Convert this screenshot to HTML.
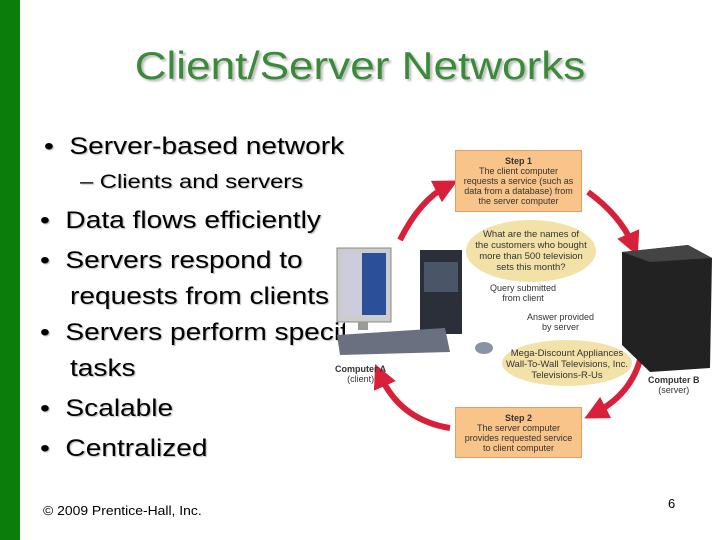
<html><head><style>
body{margin:0;width:720px;height:540px;background:#fff;position:relative;overflow:hidden;font-family:"Liberation Sans",sans-serif}
.a{position:absolute;white-space:nowrap}
.t{font-size:24px;color:#000;text-shadow:1px 1px 1px #bbb;transform:scaleX(1.17);transform-origin:0 0}
.box{position:absolute;background:#f9c48a;border:1px solid #e0a060;font-size:9px;text-align:center;color:#333;line-height:10px;padding-top:5px;box-sizing:border-box}
.ell{position:absolute;background:#f3e2a8;border-radius:50%;font-size:9.5px;text-align:center;color:#333;line-height:11px}
</style></head><body>
<div class="a" style="left:0;top:0;width:20px;height:540px;background:#0a7d0a"></div>
<div class="a" style="left:0;width:720px;top:45px;text-align:center;font-size:39px;color:#3a8a3a;text-shadow:2px 2px 2px #bbb;transform:scaleX(1.13);transform-origin:360px 0">Client/Server Networks</div>
<div class="a t" style="left:44px;top:133px">•&nbsp;&nbsp;Server-based network</div>
<div class="a" style="left:80px;top:172px;font-size:19px;text-shadow:1px 1px 1px #bbb;transform:scaleX(1.25);transform-origin:0 0">– Clients and servers</div>
<div class="a t" style="left:40px;top:207px">•&nbsp;&nbsp;Data flows efficiently</div>
<div class="a t" style="left:40px;top:247px">•&nbsp;&nbsp;Servers respond to</div>
<div class="a t" style="left:70px;top:283px">requests from clients</div>
<div class="a t" style="left:40px;top:319px">•&nbsp;&nbsp;Servers perform specific</div>
<div class="a t" style="left:70px;top:355px">tasks</div>
<div class="a t" style="left:40px;top:395px">•&nbsp;&nbsp;Scalable</div>
<div class="a t" style="left:40px;top:435px">•&nbsp;&nbsp;Centralized</div>
<div class="a" style="left:43px;top:503px;font-size:13px;transform:scaleX(1.07);transform-origin:0 0">© 2009 Prentice-Hall, Inc.</div>
<div class="a" style="left:668px;top:496px;font-size:13px">6</div>
<div class="a" style="left:345px;top:140px;width:375px;height:325px;background:#fff"></div>
<svg class="a" style="left:0;top:0" width="720" height="540">
<defs><marker id="m" markerWidth="4" markerHeight="4" refX="2" refY="2" orient="auto"><path d="M0,0L4,2L0,4z" fill="#d8203a"/></marker></defs>
<g stroke="#d8203a" stroke-width="6" fill="none" marker-end="url(#m)">
<path d="M400,240 Q420,200 447,186"/>
<path d="M588,192 Q620,215 633,245"/>
<path d="M640,360 Q630,395 595,413"/>
<path d="M450,428 Q400,420 380,375"/>
</g>
<rect x="337" y="248" width="54" height="74" fill="#ccc" stroke="#888"/>
<rect x="342" y="253" width="44" height="62" fill="#2c4f9a"/>
<rect x="342" y="253" width="20" height="62" fill="#ccd"/>
<rect x="358" y="322" width="10" height="8" fill="#999"/>
<rect x="420" y="250" width="42" height="84" fill="#2a2f3a"/>
<rect x="424" y="262" width="34" height="30" fill="#4a5568"/>
<polygon points="337,335 445,328 450,352 340,355" fill="#6a7080"/>
<ellipse cx="484" cy="348" rx="9" ry="6" fill="#8a93a3"/>
<polygon points="622,252 688,245 712,258 710,368 650,372 622,345" fill="#222"/>
<polygon points="622,252 688,245 712,258 650,262" fill="#444"/>
</svg>
<div class="box" style="left:455px;top:150px;width:127px;height:62px"><b>Step 1</b><br>The client computer<br>requests a service (such as<br>data from a database) from<br>the server computer</div>
<div class="box" style="left:455px;top:407px;width:127px;height:51px"><b>Step 2</b><br>The server computer<br>provides requested service<br>to client computer</div>
<div class="ell" style="left:466px;top:220px;width:130px;height:62px;padding-top:9px;box-sizing:border-box">What are the names of<br>the customers who bought<br>more than 500 television<br>sets this month?</div>
<div class="ell" style="left:502px;top:340px;width:130px;height:46px;padding-top:8px;box-sizing:border-box">Mega-Discount Appliances<br>Wall-To-Wall Televisions, Inc.<br>Televisions-R-Us</div>
<div class="a" style="left:490px;top:283px;font-size:9px;text-align:center;line-height:10px;color:#333">Query submitted<br>from client</div>
<div class="a" style="left:527px;top:312px;font-size:9px;text-align:center;line-height:10px;color:#333">Answer provided<br>by server</div>
<div class="a" style="left:335px;top:364px;font-size:9px;text-align:center;line-height:10px;color:#333"><b>Computer A</b><br>(client)</div>
<div class="a" style="left:648px;top:375px;font-size:9px;text-align:center;line-height:10px;color:#333"><b>Computer B</b><br>(server)</div>
</body></html>
